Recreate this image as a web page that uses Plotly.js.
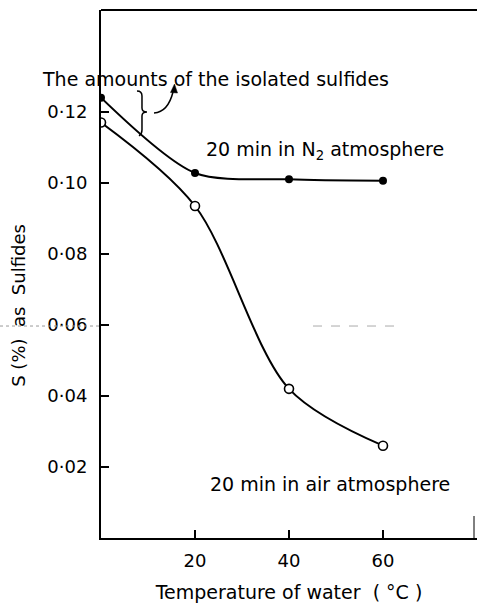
<!DOCTYPE html>
<html>
<head>
<meta charset="utf-8">
<script src="https://cdn.plot.ly/plotly-3.0.1.min.js"></script>
<style>html,body{margin:0;padding:0;background:#fff;}#chart{width:477px;height:604px;}</style>
</head>
<body>
<div id="chart"></div>
<script>
// Data
const temperatures = [0, 20, 40, 60];
const sulfidesN2 = [0.124, 0.1028, 0.1010, 0.1006];
const sulfidesAir = [0.117, 0.0935, 0.042, 0.026];
const yTickVals = [0.02, 0.04, 0.06, 0.08, 0.10, 0.12];
const yTickText = ["0·02", "0·04", "0·06", "0·08", "0·10", "0·12"];
const xTickVals = [20, 40, 60];
const xTickText = ["20", "40", "60"];

const FONT = "DejaVu Sans, sans-serif";
const W = 477, H = 604, L = 101, R = 0, T = 10, B = 66;
const PW = W - L - R, PH = H - T - B;
function PX(px) { return (px - L) / PW; }
function PY(py) { return (H - B - py) / PH; }
function path(pts) {
  return pts.map(p => PX(p[0]).toFixed(4) + ' ' + PY(p[1]).toFixed(4)).join(' ');
}

const traces = [
  {
    x: temperatures, y: sulfidesN2, type: 'scatter', mode: 'lines+markers',
    line: {color: '#000', width: 2, shape: 'spline', smoothing: 0.8},
    marker: {symbol: 'circle', size: 8, color: '#000'},
    name: '20 min in N2 atmosphere', showlegend: false, hoverinfo: 'skip'
  },
  {
    x: temperatures, y: sulfidesAir, type: 'scatter', mode: 'lines+markers',
    line: {color: '#000', width: 2, shape: 'spline', smoothing: 0.9},
    marker: {symbol: 'circle', size: 9, color: '#fff', line: {color: '#000', width: 1.6}},
    name: '20 min in air atmosphere', showlegend: false, hoverinfo: 'skip'
  }
];

const bracePath = 'M ' + path([[137, 91]]) + ' Q ' + path([[142, 91], [142, 96]]) +
  ' L ' + path([[142, 108]]) + ' Q ' + path([[142, 112], [147, 112]]) +
  ' Q ' + path([[142, 112], [142, 116]]) + ' L ' + path([[142, 130]]) +
  ' Q ' + path([[142, 134], [139, 136]]);
const arrowPath = 'M ' + path([[154, 113]]) + ' Q ' + path([[168, 112], [173, 92]]);
const arrowHead = 'M ' + path([[174.5, 84]]) + ' L ' + path([[170.5, 92.5]]) + ' L ' + path([[177.5, 93]]) + ' Z';

const layout = {
  width: W, height: H,
  margin: {l: L, r: R, t: T, b: B, pad: 0},
  paper_bgcolor: '#fff', plot_bgcolor: '#fff',
  font: {family: FONT, color: '#000', size: 18},
  showlegend: false,
  xaxis: {
    range: [0, 80], showgrid: false, zeroline: false,
    showline: true, linecolor: '#000', linewidth: 2,
    ticks: 'inside', ticklen: 8, tickwidth: 1.5, tickcolor: '#000',
    tickvals: xTickVals, ticktext: xTickText,
    tickfont: {family: FONT, size: 18, color: '#000'},
    ticklabelstandoff: 5,
    title: {text: 'Temperature of water  ( °C )', font: {family: FONT, size: 19, color: '#000'}, standoff: 16},
    fixedrange: true
  },
  yaxis: {
    range: [0, 0.1487], showgrid: false, zeroline: false,
    showline: true, linecolor: '#000', linewidth: 2,
    ticks: 'inside', ticklen: 8, tickwidth: 1.5, tickcolor: '#000',
    tickvals: yTickVals, ticktext: yTickText,
    tickfont: {family: FONT, size: 18, color: '#000'},
    ticklabelstandoff: 8,
    title: {text: 'S (%)  as  Sulfides' + '&nbsp;'.repeat(11), font: {family: FONT, size: 18, color: '#000'}, standoff: 17},
    fixedrange: true
  },
  shapes: [
    {type: 'line', xref: 'paper', yref: 'paper', x0: 0, x1: 1, y0: 1, y1: 1, line: {color: '#000', width: 2}},
    {type: 'line', xref: 'paper', yref: 'paper', x0: PX(474), x1: PX(474), y0: 0, y1: PY(516), line: {color: '#000', width: 1}},
    {type: 'line', xref: 'paper', yref: 'y', x0: PX(0), x1: 0, y0: 0.0597, y1: 0.0597, line: {color: '#999', width: 1, dash: 'dot'}},
    {type: 'line', xref: 'paper', yref: 'y', x0: PX(313), x1: PX(400), y0: 0.0597, y1: 0.0597, line: {color: '#aaa', width: 1, dash: 'dash'}},
    {type: 'path', xref: 'paper', yref: 'paper', path: bracePath, line: {color: '#000', width: 1.5}},
    {type: 'path', xref: 'paper', yref: 'paper', path: arrowPath, line: {color: '#000', width: 1.5}},
    {type: 'path', xref: 'paper', yref: 'paper', path: arrowHead, fillcolor: '#000', line: {color: '#000', width: 0.5}}
  ],
  annotations: [
    {xref: 'paper', yref: 'paper', x: PX(215), y: PY(79), text: 'The amounts of the isolated sulfides', showarrow: false, xanchor: 'center', yanchor: 'middle', font: {family: FONT, size: 19, color: '#000'}},
    {xref: 'paper', yref: 'paper', x: PX(325), y: PY(150), text: '20 min in N<sub>2</sub> atmosphere', showarrow: false, xanchor: 'center', yanchor: 'middle', font: {family: FONT, size: 19, color: '#000'}},
    {xref: 'paper', yref: 'paper', x: PX(330), y: PY(484), text: '20 min in air atmosphere', showarrow: false, xanchor: 'center', yanchor: 'middle', font: {family: FONT, size: 19, color: '#000'}}
  ]
};

Plotly.newPlot('chart', traces, layout, {staticPlot: true, displayModeBar: false});
</script>
</body>
</html>
